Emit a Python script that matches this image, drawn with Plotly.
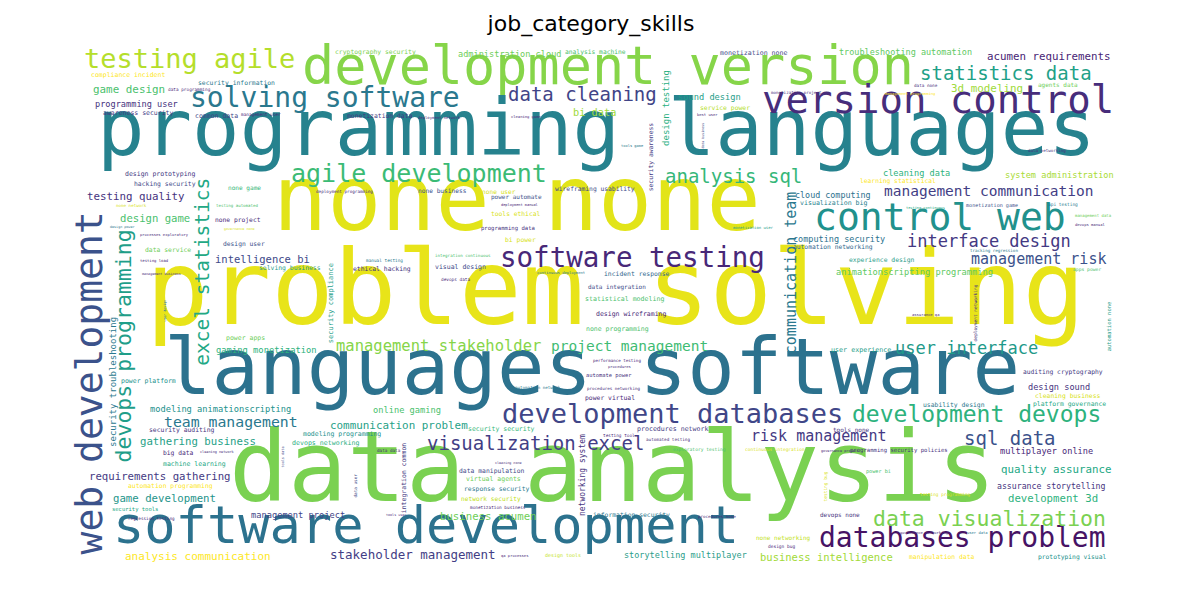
import plotly.graph_objects as go

# word pairs of the cloud, in groups of ten
words = [
    "problem solving", "programming languages", "none none", "languages software", "data analysis",
    "development version", "software development", "web development", "version control", "control web",
    "testing agile", "solving software", "agile development", "software testing", "development databases",
    "databases problem", "development devops", "data cleaning", "statistics data", "analysis sql",
    "excel statistics", "devops programming", "communication team", "interface design", "management risk",
    "management communication", "user interface", "sql data", "data visualization", "visualization excel",
    "risk management", "management stakeholder", "project management", "compliance incident", "security information",
    "data programming", "game design", "programming user", "awareness security", "common data",
    "management user", "design prototyping", "hacking security", "testing quality", "none game",
    "none network", "testing automated", "cryptography security", "administration cloud", "analysis machine",
    "monetization data", "deployment network", "cleaning game", "bi data", "deployment programming",
    "none business", "none user", "wireframing usability", "power automate", "deployment manual",
    "tools ethical", "monetization none", "sound design", "service power", "best user",
    "monetization project", "design testing", "security awareness", "tools game", "data business",
    "troubleshooting automation", "acumen requirements", "3d modeling", "data none", "agents data",
    "management programming", "data networking", "cleaning data", "learning statistical", "system administration",
    "visualization big", "cloud computing", "testing continuous", "monetization game", "api testing",
    "management data", "devops manual", "design game", "none project", "governance none",
    "design power", "processes exploratory", "design user", "data service", "intelligence bi",
    "testing load", "solving business", "management business", "user design", "power apps",
    "gaming monetization", "power platform", "security compliance", "security troubleshooting", "programming data",
    "bi power", "integration continuous", "manual testing", "ethical hacking", "visual design",
    "devops data", "continuous deployment", "monetization user", "incident response", "data integration",
    "statistical modeling", "design wireframing", "none programming", "performance testing", "procedures",
    "automate power", "computing security", "automation networking", "experience design", "animationscripting programming",
    "user experience", "assurance qa", "deployment networking", "automation none", "apps power",
    "tracking regression", "auditing cryptography", "modeling animationscripting", "team management", "gathering business",
    "security auditing", "big data", "cleaning network", "machine learning", "requirements gathering",
    "automation programming", "game development", "security tools", "regression testing", "management project",
    "analysis communication", "devops networking", "modeling programming", "tools data", "communication problem",
    "online gaming", "security security", "automation network", "networking system", "integration common",
    "data user", "data data", "cleaning none", "data manipulation", "virtual agents",
    "response security", "network security", "monetization business", "tools user", "qa processes",
    "design tools", "procedures networking", "power virtual", "stakeholder management", "business acumen",
    "procedures network", "testing tool", "automated testing", "exploratory testing", "continuous integration",
    "governance project", "tools none", "testing bug", "information security", "procedures none",
    "devops none", "none networking", "design bug", "storytelling multiplayer", "business intelligence",
    "design sound", "cleaning business", "usability design", "platform governance", "multiplayer online",
    "programming security policies", "quality assurance", "assurance storytelling", "development 3d", "power bi",
    "testing programming", "governance networking", "user data", "manipulation data", "prototyping visual",
]

# word weight = font size in px
weights = [
    104, 79, 90, 79, 98, 53.5, 52, 38, 39, 38,
    27, 28, 25, 27.5, 27, 28, 23, 19, 19, 19,
    19.5, 21.5, 15, 17, 15, 14.5, 17, 19, 21.5, 19,
    15, 15.5, 14.5, 6.5, 6.4, 4.4, 10.9, 8.6, 6.5, 6.5,
    4.4, 6.5, 6.4, 10.8, 6.1, 4.2, 4.1, 6.4, 8.6, 6.3,
    6.4, 3.9, 3.8, 10.3, 4.3, 6.2, 6.2, 6.3, 6.0, 3.6,
    6.3, 6.6, 8.7, 6.4, 3.8, 4.2, 9, 6.3, 3.7, 3.3,
    8.5, 10.8, 10.9, 4.3, 6.0, 3.8, 4.2, 8.6, 6.3, 8.6,
    6.6, 8.4, 3.6, 5.1, 4.5, 4.0, 3.8, 10.6, 6.3, 3.4,
    3.4, 3.8, 6.3, 6.4, 10.5, 3.9, 6.4, 3.4, 3.3, 6.5,
    8.8, 6.5, 7, 9, 5.6, 6.4, 4.2, 4.4, 6.4, 6.5,
    4.4, 3.8, 3.9, 6.4, 6.0, 6.6, 6.5, 6.5, 4.2, 3.8,
    5.4, 8.5, 6.3, 6.4, 8.7, 6.7, 3.8, 4.5, 5.5, 4.7,
    4.2, 6.3, 8.7, 14.8, 10.7, 6.4, 6.3, 3.5, 6.5, 10.7,
    6.4, 10.7, 5.5, 4.3, 8.7, 11, 6.6, 6.5, 3.5, 10.9,
    8.7, 6.5, 4.2, 8, 6.5, 4.3, 4.3, 3.4, 6.4, 6.5,
    6.4, 6.2, 4.4, 3.4, 3.8, 5.0, 4.2, 6.4, 12.5, 10.7,
    6.6, 4.4, 4.3, 4.6, 4.5, 3.5, 6.0, 4.5, 6.4, 4.2,
    6.0, 6.0, 4.5, 8.5, 10.5, 8.6, 6.4, 6.4, 6.4, 8.6,
    5.6, 10.8, 8.2, 10.7, 5.2, 4.4, 3.8, 3.8, 6.4, 6.3,
]

# layout of the cloud (pixel grid of the original image)
x_pos = [
    607, 588, 509, 584, 604, 600, 418, 86, 930, 932,
    181, 317, 411, 624, 664, 954, 968, 574, 998, 725,
    196, 118, 785, 981, 1030, 981, 958, 1002, 981, 527,
    810, 430, 621, 120, 228, 181, 121, 128, 130, 208,
    253, 152, 157, 128, 236, 123, 229, 367, 501, 587,
    372, 431, 518, 586, 336, 434, 491, 587, 508, 511,
    507, 746, 701, 717, 699, 788, 659, 644, 624, 695,
    897, 1041, 979, 918, 1050, 902, 1039, 908, 890, 1051,
    826, 825, 917, 984, 1055, 1085, 1082, 147, 230, 231,
    114, 156, 236, 160, 254, 146, 282, 153, 157, 237,
    258, 140, 324, 106, 500, 512, 455, 376, 374, 452,
    447, 553, 745, 629, 609, 616, 623, 609, 609, 611,
    601, 831, 825, 874, 906, 853, 917, 968, 1102, 1079,
    986, 1055, 212, 223, 190, 174, 170, 209, 186, 152,
    162, 156, 127, 143, 290, 190, 318, 334, 275, 391,
    399, 493, 530, 575, 397, 348, 381, 500, 484, 485,
    489, 483, 490, 388, 506, 555, 605, 602, 405, 480,
    664, 611, 660, 691, 767, 832, 843, 818, 623, 709,
    832, 775, 773, 677, 818, 1051, 1060, 946, 1061, 1038,
    891, 1048, 1043, 1045, 870, 937, 916, 969, 934, 1064,
]

y_pos = [
    292, 129, 201, 368, 471, 64, 523, 375, 96, 214,
    54, 93, 168, 252, 409, 533, 409, 88, 67, 170,
    264, 338, 265, 235, 253, 185, 342, 432, 513, 437,
    430, 340, 340, 68, 76, 82, 83, 97, 106, 109,
    107, 167, 177, 190, 181, 198, 198, 45, 47, 45,
    109, 110, 109, 105, 184, 183, 184, 182, 190, 197,
    206, 46, 90, 101, 107, 85, 100, 149, 138, 128,
    45, 50, 82, 78, 78, 86, 143, 166, 174, 168,
    196, 188, 200, 198, 197, 208, 217, 211, 213, 221,
    219, 227, 237, 243, 252, 253, 261, 266, 303, 331,
    343, 374, 295, 374, 221, 233, 248, 253, 262, 260,
    272, 265, 220, 267, 280, 292, 307, 322, 353, 359,
    368, 232, 240, 253, 265, 343, 307, 305, 318, 262,
    243, 365, 402, 415, 435, 423, 446, 444, 457, 470,
    479, 492, 502, 511, 508, 550, 436, 427, 449, 419,
    403, 422, 380, 467, 470, 477, 443, 455, 464, 472,
    482, 492, 500, 507, 548, 548, 381, 391, 548, 510,
    422, 428, 432, 442, 442, 443, 422, 478, 508, 509,
    508, 531, 539, 548, 550, 380, 389, 398, 397, 444,
    443, 463, 479, 492, 464, 487, 525, 525, 550, 550,
]

vertical = [
    0, 0, 0, 0, 0, 0, 0, 1, 0, 0,
    0, 0, 0, 0, 0, 0, 0, 0, 0, 0,
    1, 1, 1, 0, 0, 0, 0, 0, 0, 0,
    0, 0, 0, 0, 0, 0, 0, 0, 0, 0,
    0, 0, 0, 0, 0, 0, 0, 0, 0, 0,
    0, 0, 0, 0, 0, 0, 0, 0, 0, 0,
    0, 0, 0, 0, 0, 0, 1, 1, 0, 1,
    0, 0, 0, 0, 0, 0, 0, 0, 0, 0,
    0, 0, 0, 0, 0, 0, 0, 0, 0, 0,
    0, 0, 0, 0, 0, 0, 0, 0, 1, 0,
    0, 0, 1, 1, 0, 0, 0, 0, 0, 0,
    0, 0, 0, 0, 0, 0, 0, 0, 0, 0,
    0, 0, 0, 0, 0, 0, 0, 1, 1, 0,
    0, 0, 0, 0, 0, 0, 0, 0, 0, 0,
    0, 0, 0, 0, 0, 0, 0, 0, 1, 0,
    0, 0, 0, 1, 1, 1, 0, 0, 0, 0,
    0, 0, 0, 0, 0, 0, 0, 0, 0, 0,
    0, 0, 0, 0, 0, 0, 0, 1, 0, 0,
    0, 0, 0, 0, 0, 0, 0, 0, 0, 0,
    0, 0, 0, 0, 0, 0, 0, 0, 0, 0,
]

# viridis colours picked per word
colors = [
    "#e8e419", "#26828e", "#e2e418", "#2c728e", "#7ad151", "#86d549", "#2c728e", "#3b528b", "#472d7b", "#21918c",
    "#b5de2b", "#2a788e", "#3bbb75", "#482878", "#404688", "#471365", "#2db27d", "#414487", "#1fa187", "#35b779",
    "#22a884", "#1f9e89", "#2a788e", "#443983", "#3b528b", "#433e85", "#1f9a8a", "#3b528b", "#7ad151", "#433e85",
    "#443983", "#86d549", "#3fbc73", "#fde725", "#2a788e", "#482878", "#4ac16d", "#46337e", "#443983", "#414487",
    "#482878", "#443983", "#3e4a89", "#46337e", "#35b779", "#d8e219", "#4ac16d", "#7ad151", "#6ece58", "#4ac16d",
    "#443983", "#472d7b", "#482878", "#a0da39", "#472d7b", "#3b528b", "#d8e219", "#3e4a89", "#3b528b", "#482878",
    "#d8e219", "#3e4a89", "#1f9e89", "#b5de2b", "#482878", "#472d7b", "#29af7f", "#443983", "#2a788e", "#3e4a89",
    "#5ec962", "#482475", "#a0da39", "#472d7b", "#6ece58", "#fde725", "#46337e", "#2db27d", "#fde725", "#a8db34",
    "#277f8e", "#2c718e", "#22a884", "#3b528b", "#2a788e", "#6ece58", "#482878", "#4ac16d", "#482878", "#d8e219",
    "#2a788e", "#482878", "#3b528b", "#6ece58", "#3e4a89", "#482878", "#2a9d8a", "#472d7b", "#2a788e", "#6ece58",
    "#2db27d", "#21918c", "#1f9e89", "#2a788e", "#46337e", "#d8e219", "#4ac16d", "#2a788e", "#46337e", "#3e4a89",
    "#482878", "#2a788e", "#1f9e89", "#31688e", "#3e4a89", "#4ac16d", "#482878", "#4ac16d", "#482878", "#482878",
    "#46337e", "#2c728e", "#31688e", "#2a9d8a", "#5ec962", "#1f9e89", "#482878", "#46337e", "#2a9d8a", "#4ac16d",
    "#2a788e", "#443983", "#21918c", "#2a788e", "#1fa187", "#46337e", "#482878", "#472d7b", "#22a884", "#443a83",
    "#fde725", "#1f958b", "#22a884", "#482878", "#414487", "#fde725", "#29af7f", "#21918c", "#3e4a89", "#1fa187",
    "#4ac16d", "#35b779", "#2a788e", "#46337e", "#443983", "#3e4a89", "#472d7b", "#472d7b", "#3e4a89", "#6ece58",
    "#2a788e", "#c2df23", "#482878", "#472d7b", "#482878", "#c2df23", "#472d7b", "#482878", "#433e85", "#6ece58",
    "#443983", "#482878", "#472d7b", "#4ac16d", "#d8e219", "#482878", "#46337e", "#d8e219", "#2a788e", "#482878",
    "#46337e", "#c2df23", "#482878", "#2a9d8a", "#a2da37", "#46337e", "#d8e219", "#2a788e", "#22a884", "#482878",
    "#46337e", "#22a884", "#46337e", "#2db27d", "#4ac16d", "#d8e219", "#482878", "#2a788e", "#fde725", "#21918c",
]

W, H = 1191, 603
BASELINE_SHIFT = 0.12  # plotly sits the glyphs a bit low in their box (fraction of font size)

fig = go.Figure()
# invisible anchor points so hovering a word shows it
fig.add_trace(go.Scatter(
    x=x_pos, y=y_pos, mode="markers",
    marker=dict(size=4, opacity=0),
    text=words, hoverinfo="text", showlegend=False,
))

for w, s, x, y, v, c in zip(words, weights, x_pos, y_pos, vertical, colors):
    if v:
        x = x - BASELINE_SHIFT * s
    else:
        y = y - BASELINE_SHIFT * s
    fig.add_annotation(
        x=x, y=y, text=w, showarrow=False,
        xanchor="center", yanchor="middle",
        textangle=-90 if v else 0,
        font=dict(family="DejaVu Sans Mono", size=s, color=c),
    )

fig.update_layout(
    width=W, height=H,
    margin=dict(l=0, r=0, t=0, b=0),
    paper_bgcolor="white", plot_bgcolor="white",
    title=dict(text="job_category_skills", x=583 / W, y=1 - 15 / H,
               xanchor="center", yanchor="middle",
               font=dict(family="DejaVu Sans", size=22, color="black")),
    xaxis=dict(range=[0, W], visible=False, fixedrange=True),
    yaxis=dict(range=[H, 0], visible=False, fixedrange=True),
)

fig.write_html("out.html")
